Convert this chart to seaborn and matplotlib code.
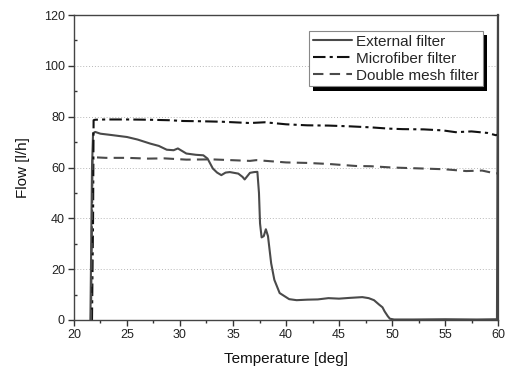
import matplotlib
matplotlib.use("Agg")
import matplotlib.pyplot as plt
import matplotlib.patheffects as pe
import seaborn as sns

# ---- data ----
ext_x = [21.55, 21.6, 21.7, 21.8, 22.0, 22.5, 23.5, 25, 26, 27.2, 28, 28.75, 29.4, 29.8, 30.2, 30.6,
         31.5, 32.2, 32.6, 33.1, 33.5, 33.9, 34.3, 34.7, 35.5, 35.9, 36.1, 36.6, 37.0, 37.3, 37.45,
         37.55, 37.7, 37.9, 38.1, 38.3, 38.6, 38.9, 39.4, 40.3, 41, 42, 43, 44, 45, 46, 47.2, 47.8,
         48.3, 48.8, 49.1, 49.3, 49.6, 49.8, 50.2, 52, 55, 58, 59.9, 60.0]
ext_y = [0, 20, 60, 73.5, 74, 73.3, 72.8, 72, 71, 69.4, 68.5, 67, 66.8, 67.5, 66.5, 65.5,
         65, 64.8, 63.5, 59.6, 58, 57, 58, 58.2, 57.6, 56.3, 55.3, 57.9, 58.2, 58.3, 50,
         38, 32.5, 33, 35.7, 33, 22.3, 15.8, 10.6, 8.2, 7.8, 8, 8.1, 8.6, 8.4, 8.7, 9.0, 8.6,
         7.8, 6, 5, 3.4, 1.5, 0.5, 0.2, 0.2, 0.3, 0.2, 0.3, 120]

mic_x = [21.7, 21.8, 21.85, 22, 23, 25, 27, 29, 30.3, 32, 34, 36.6, 38, 40, 42, 44, 46, 48, 49.7,
         51, 53, 54.8, 56, 57.5, 59, 59.8, 60]
mic_y = [0, 40, 78.6, 78.8, 78.9, 78.9, 78.8, 78.6, 78.3, 78.2, 78, 77.5, 77.8, 77, 76.6, 76.5,
         76.2, 75.8, 75.3, 75.1, 75, 74.6, 73.9, 74.2, 73.6, 72.7, 73.0]

dm_x = [21.6, 21.7, 21.75, 22, 23, 25, 27, 28.5, 30.6, 33, 36.6, 37.2, 40, 42, 44, 46.6, 48, 50,
        52.9, 55, 57, 58.5, 59.8, 60]
dm_y = [0, 40, 63.8, 64, 63.8, 63.8, 63.5, 63.6, 63.1, 63.2, 62.6, 62.9, 62, 61.8, 61.4, 60.6,
        60.5, 60, 59.6, 59.3, 58.6, 58.8, 57.6, 57.8]

labels = ["External filter", "Microfiber filter", "Double mesh filter"]
x_ticks = [20, 25, 30, 35, 40, 45, 50, 55, 60]
y_ticks = [0, 20, 40, 60, 80, 100, 120]

# ---- style ----
sns.set_theme(style="white")
plt.rcParams['font.family'] = ['Liberation Sans', 'DejaVu Sans']

fig = plt.figure(figsize=(5.12, 3.69), dpi=100)
ax = fig.add_axes([0.1445, 0.1328, 0.8282, 0.8265])

sns.lineplot(x=ext_x, y=ext_y, ax=ax, sort=False, estimator=None, color="#4a4a4a",
             linewidth=1.5, linestyle="-", label=labels[0])
sns.lineplot(x=mic_x, y=mic_y, ax=ax, sort=False, estimator=None, color="#111111",
             linewidth=1.5, linestyle=(0, (6, 2, 1.5, 2)), label=labels[1])
sns.lineplot(x=dm_x, y=dm_y, ax=ax, sort=False, estimator=None, color="#4a4a4a",
             linewidth=1.5, linestyle=(0, (5, 3)), label=labels[2])

ax.set_xlim(20, 60)
ax.set_ylim(0, 120)
ax.set_xticks(x_ticks)
ax.set_yticks(y_ticks)
ax.set_xticks([22.5 + 5 * i for i in range(8)], minor=True)
ax.set_yticks([10 + 20 * i for i in range(6)], minor=True)

for yv in y_ticks[1:-1]:
    ax.axhline(yv, color="#b8b8b8", linestyle=(0, (1, 2)), linewidth=0.7, zorder=0)

ax.tick_params(axis="both", which="major", direction="out", length=4.5, width=1,
               color="#333333", labelsize=9, labelcolor="#222222", pad=2,
               bottom=True, left=True)
ax.tick_params(axis="x", which="minor", direction="out", length=2.5, width=1,
               color="#333333", bottom=True)
ax.tick_params(axis="y", which="minor", direction="in", length=2.5, width=1,
               color="#333333", left=True)

for name, sp in ax.spines.items():
    sp.set_visible(True)
    sp.set_color("#444444")
    sp.set_linewidth(1.0)
ax.spines["right"].set_linewidth(1.6)

ax.set_xlabel("Temperature [deg]", fontsize=11, color="#111111", labelpad=8)
ax.set_ylabel("Flow [l/h]", fontsize=11, color="#111111", labelpad=10)

leg = ax.legend(loc="upper right", bbox_to_anchor=(0.964, 0.9486), borderaxespad=0,
                fontsize=11, frameon=True, fancybox=False, handlelength=2.6,
                handletextpad=0.25, labelspacing=0.2, borderpad=0.25)
frame = leg.get_frame()
frame.set_edgecolor("#888888")
frame.set_linewidth(0.8)
frame.set_alpha(1.0)
frame.set_path_effects([pe.SimplePatchShadow(offset=(3.2, -3.2), shadow_rgbFace="black", alpha=1.0),
                        pe.Normal()])

fig.savefig("out.png", dpi=100)
